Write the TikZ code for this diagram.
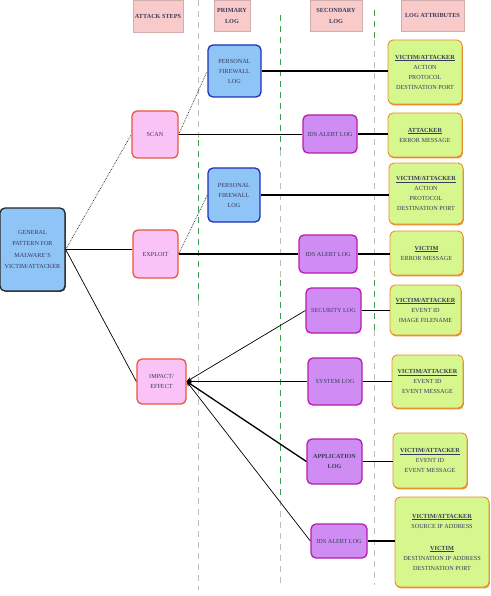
\documentclass[tikz,border=0pt]{standalone}
\usepackage{fontspec}
\setmainfont{Liberation Serif}
\usetikzlibrary{arrows.meta, positioning, shadows}
\definecolor{chead}{HTML}{F8CACA}
\definecolor{cblue}{HTML}{8EC4F6}
\definecolor{cnavy}{HTML}{1E2FB8}
\definecolor{cpink}{HTML}{FAC3F6}
\definecolor{cred}{HTML}{E8563C}
\definecolor{cpurple}{HTML}{CF8DF3}
\definecolor{cmagenta}{HTML}{B81AAE}
\definecolor{cgreen}{HTML}{D6F68E}
\definecolor{corange}{HTML}{EE8A2A}
\definecolor{ctext}{HTML}{3A3A5C}
\definecolor{cdash}{HTML}{3DA048}
\definecolor{cgrey}{HTML}{B8C0B8}
\newcommand{\attrhead}[1]{\underline{\textbf{#1}}}
\tikzset{
  every picture/.style={x=1pt, y=-1pt},
  box/.style={draw=#1, rounded corners=5pt, align=center, inner sep=1pt, line width=1.3pt,
    text=ctext, font=\fontsize{6.2}{10}\selectfont},
  head/.style={fill=chead, draw=chead!85!black, line width=0.4pt, align=center, inner sep=1pt,
    text=ctext, font=\fontsize{6.2}{11}\selectfont\bfseries},
  genbox/.style={box=black!85, fill=cblue, drop shadow={fill=black!70, shadow xshift=0.8pt, shadow yshift=-0.8pt, opacity=1}},
  stepbox/.style={box=cred, fill=cpink},
  fwbox/.style={box=cnavy, fill=cblue},
  logbox/.style={box=cmagenta, fill=cpurple},
  attrbox/.style={box=corange, fill=cgreen, line width=0.9pt,
    drop shadow={fill=corange, shadow xshift=0.8pt, shadow yshift=-1.4pt, opacity=1}},
  link/.style={draw=black, line width=1.3pt},
  thinlink/.style={draw=black, line width=0.7pt},
  dotlink/.style={draw=black!85, line width=0.7pt, densely dotted},
  sep/.style={line width=0.8pt, dash pattern=on 6pt off 5pt},
}

\begin{document}
\begin{tikzpicture}
  \useasboundingbox (0,0) rectangle (490,596);
  % column separators
  \draw[sep, cgrey] (198,0) -- (198,140);
  \draw[sep, cdash] (198,140) -- (198,300);
  \draw[sep, cgrey] (198,300) -- (198,590);
  \draw[sep, cdash] (280,15) -- (280,150);
  \draw[sep, cgrey] (280,150) -- (280,280);
  \draw[sep, cdash] (280,280) -- (280,500);
  \draw[sep, cgrey] (280,500) -- (280,585);
  \draw[sep, cdash] (374,10) -- (374,40);
  \draw[sep, cgrey] (374,40) -- (374,280);
  \draw[sep, cdash] (374,280) -- (374,330);
  \draw[sep, cgrey] (374,330) -- (374,585);
  % headers
  \node[head, minimum width=50pt, minimum height=32pt] (hsteps) at (158,16) {ATTACK STEPS};
  \node[head, minimum width=36pt, minimum height=31pt] (hprim) at (232,15.5) {PRIMARY\\LOG};
  \node[head, minimum width=52pt, minimum height=31pt] (hsec) at (336,15.5) {SECONDARY\\LOG};
  \node[head, minimum width=63pt, minimum height=31pt] (hattr) at (432.5,15.5) {LOG ATTRIBUTES};
  % general pattern
  \node[genbox, minimum width=65pt, minimum height=83pt, font=\fontsize{6.2}{11.5}\selectfont] (gen) at (32.5,249.5)
    {GENERAL\\PATTERN FOR\\MALWARE'S\\VICTIM/ATTACKER};
  % attack steps
  \node[stepbox, minimum width=46pt, minimum height=47pt] (scan) at (155,134.5) {SCAN};
  \node[stepbox, minimum width=45pt, minimum height=48pt] (exploit) at (155.5,254) {EXPLOIT};
  \node[stepbox, minimum width=49pt, minimum height=45pt] (impact) at (161.5,381.5) {IMPACT/\\EFFECT};
  % primary logs
  \node[fwbox, minimum width=53pt, minimum height=52pt] (fw1) at (234.5,71) {PERSONAL\\FIREWALL\\LOG};
  \node[fwbox, minimum width=52pt, minimum height=54pt] (fw2) at (234,195) {PERSONAL\\FIREWALL\\LOG};
  % secondary logs
  \node[logbox, minimum width=54pt, minimum height=38pt] (ids1) at (330,134) {IDS ALERT LOG};
  \node[logbox, minimum width=58pt, minimum height=38pt] (ids2) at (328,254) {IDS ALERT LOG};
  \node[logbox, minimum width=55pt, minimum height=45pt] (seclog) at (333.5,310.5) {SECURITY LOG};
  \node[logbox, minimum width=54pt, minimum height=47pt] (syslog) at (335,381.5) {SYSTEM LOG};
  \node[logbox, minimum width=55pt, minimum height=45pt, font=\fontsize{6.2}{10}\selectfont\bfseries] (applog) at (334.5,461.5) {APPLICATION\\LOG};
  \node[logbox, minimum width=56pt, minimum height=34pt] (ids3) at (339,541) {IDS ALERT LOG};
  % log attributes
  \node[attrbox, minimum width=74pt, minimum height=64pt] (att1) at (425,72)
    {\attrhead{VICTIM/ATTACKER}\\ACTION\\PROTOCOL\\DESTINATION PORT};
  \node[attrbox, minimum width=74pt, minimum height=44pt] (att2) at (425,135)
    {\attrhead{ATTACKER}\\ERROR MESSAGE};
  \node[attrbox, minimum width=74pt, minimum height=61pt] (att3) at (426,193.5)
    {\attrhead{VICTIM/ATTACKER}\\ACTION\\PROTOCOL\\DESTINATION PORT};
  \node[attrbox, minimum width=73pt, minimum height=44pt] (att4) at (426.5,253)
    {\attrhead{VICTIM}\\ERROR MESSAGE};
  \node[attrbox, minimum width=71pt, minimum height=50pt] (att5) at (425.5,310)
    {\attrhead{VICTIM/ATTACKER}\\EVENT ID\\IMAGE FILENAME};
  \node[attrbox, minimum width=71pt, minimum height=53pt] (att6) at (427.5,381.5)
    {\attrhead{VICTIM/ATTACKER}\\EVENT ID\\EVENT MESSAGE};
  \node[attrbox, minimum width=74pt, minimum height=55pt] (att7) at (430,460.5)
    {\attrhead{VICTIM/ATTACKER}\\EVENT ID\\EVENT MESSAGE};
  \node[attrbox, minimum width=94pt, minimum height=90pt] (att8) at (442,542)
    {\attrhead{VICTIM/ATTACKER}\\SOURCE IP ADDRESS\\[12pt]\attrhead{VICTIM}\\DESTINATION IP ADDRESS\\DESTINATION PORT};
  % connectors
  \draw[dotlink] (gen.east) -- (scan.west);
  \draw[link] (gen.east) -- (exploit.west |- gen.east);
  \draw[thinlink] (gen.east) -- (impact.west);
  \draw[dotlink] (scan.east) -- (fw1.west);
  \draw[link] (scan.east) -- (scan.east -| ids1.west);
  \draw[dotlink] (exploit.east) -- (fw2.west);
  \draw[link] (exploit.east) -- (exploit.east -| ids2.west);
  \draw[thinlink, {Stealth[length=5pt, width=4pt]}-] (impact.east) -- (seclog.west);
  \draw[thinlink, {Stealth[length=5pt, width=4pt]}-] (impact.east) -- (impact.east -| syslog.west);
  \draw[link, {Stealth[length=5pt, width=4pt]}-] (impact.east) -- (applog.west);
  \draw[thinlink, {Stealth[length=5pt, width=4pt]}-] (impact.east) -- (ids3.west);
  \draw[link] (fw1.east) -- (fw1.east -| att1.west);
  \draw[link] (ids1.east) -- (ids1.east -| att2.west);
  \draw[link] (fw2.east) -- (fw2.east -| att3.west);
  \draw[link] (ids2.east) -- (ids2.east -| att4.west);
  \draw[link] (seclog.east) -- (seclog.east -| att5.west);
  \draw[link] (syslog.east) -- (syslog.east -| att6.west);
  \draw[link] (applog.east) -- (applog.east -| att7.west);
  \draw[link] (ids3.east) -- (ids3.east -| att8.west);
\end{tikzpicture}
\end{document}
